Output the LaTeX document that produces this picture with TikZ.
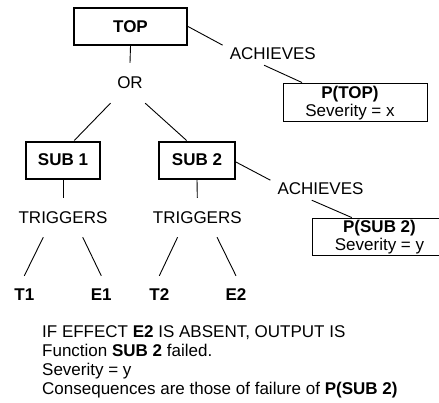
\documentclass[tikz,border=0pt]{standalone}
\usepackage{fontspec}
\setmainfont{Liberation Sans}
\begin{document}
\begin{tikzpicture}[x=1pt,y=-1pt,
  every node/.style={inner sep=0pt, font=\fontsize{17}{19}\selectfont},
  thickbox/.style={draw, line width=2pt, minimum width=#1, minimum height=37pt,
    font=\fontsize{17}{19}\selectfont\bfseries},
  thinbox/.style={draw, line width=0.9pt},
  boldlbl/.style={font=\fontsize{17}{19}\selectfont\bfseries},
  conn/.style={line width=0.9pt},
  achlbl/.style={minimum width=100pt, minimum height=22pt},
  triglbl/.style={minimum height=39pt},
  leaf/.style={minimum height=36.6pt, font=\fontsize{17}{19}\selectfont\bfseries}]
\useasboundingbox (0,0) rectangle (439,402);

% top level
\node[thickbox=113pt] (top) at (130.5,26.5) {TOP};
\node[minimum width=40pt, minimum height=40pt] (or) at (130,83) {OR};
\node[achlbl] (ach1) at (272.8,54) {ACHIEVES};
\node[thinbox, minimum width=144pt, minimum height=38pt] (ptop) at (355.5,102) {};
\node[boldlbl, anchor=base] (ptopname) at (350,98.5) {P(TOP)};
\node[anchor=base] (ptopsev) at (350,116.5) {Severity = x};

% second level
\node[thickbox=74pt] (sub1) at (63,160) {SUB 1};
\node[thickbox=76pt] (sub2) at (197,160) {SUB 2};
\node[achlbl] (ach2) at (320.5,189) {ACHIEVES};
\node[thinbox, minimum width=128pt, minimum height=37pt] (psub) at (376,236.5) {};
\node[boldlbl, anchor=base] (psubname) at (379.5,232) {P(SUB 2)};
\node[anchor=base] (psubsev) at (379.5,250) {Severity = y};

\node[triglbl] (trig1) at (63,217.5) {TRIGGERS};
\node[triglbl] (trig2) at (197.3,217.5) {TRIGGERS};

% leaves
\node[leaf] (t1) at (24.3,294.3) {T1};
\node[leaf] (e1) at (101.3,294.3) {E1};
\node[leaf] (t2) at (159.3,294.3) {T2};
\node[leaf] (e2) at (236,294.3) {E2};

% connectors
\draw[conn] (top.south) -- (or.north);
\draw[conn] (or.226.5) -- (sub1.60);
\draw[conn] (or.307) -- (sub2.118.5);
\draw[conn] (top.east) -- (ach1.170);
\draw[conn] (ach1.232) -- (ptop.160);
\draw[conn] (sub2.-3) -- (ach2.170);
\draw[conn] (ach2.232) -- (psub.142);
\draw[conn] (sub1.south) -- (trig1.north);
\draw[conn] (sub2.south) -- (trig2.north);
\draw[conn] (trig1.225) -- (t1.north);
\draw[conn] (trig1.-45) -- (e1.north);
\draw[conn] (trig2.225) -- (t2.north);
\draw[conn] (trig2.-45) -- (e2.north);

% explanation text
\node[anchor=base west] (line1) at (42,337) {IF EFFECT \textbf{E2} IS ABSENT, OUTPUT IS};
\node[anchor=base west] (line2) at (42,356) {Function \textbf{SUB 2} failed.};
\node[anchor=base west] (line3) at (42,375) {Severity = y};
\node[anchor=base west] (line4) at (42,394) {Consequences are those of failure of \textbf{P(SUB 2)}};
\end{tikzpicture}
\end{document}
